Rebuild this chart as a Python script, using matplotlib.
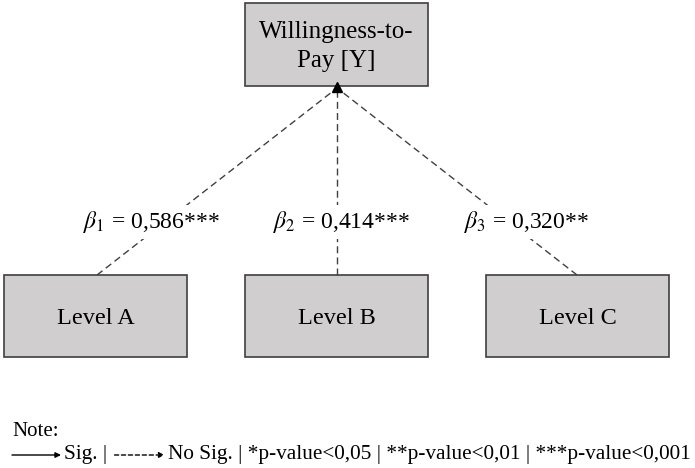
import matplotlib.pyplot as plt
from matplotlib.patches import Rectangle

plt.rcParams['font.family'] = ['Liberation Serif', 'DejaVu Serif']
plt.rcParams['mathtext.fontset'] = 'stix'

# path model: one outcome, three predictors
outcome = 'Willingness-to-\nPay [Y]'
levels = ['Level A', 'Level B', 'Level C']
betas = ['0,586', '0,414', '0,320']
stars = ['***', '***', '**']

W, H = 695, 468
fig = plt.figure(figsize=(W / 100, H / 100), dpi=100)
ax = fig.add_axes([0, 0, 1, 1])
ax.set_xlim(0, W)
ax.set_ylim(H, 0)
ax.axis('off')

box_fc = '#d0cecf'
box_ec = '#404040'
line_c = '#404040'

# outcome box
top = (245, 3, 183, 83)
ax.add_patch(Rectangle(top[:2], top[2], top[3], fc=box_fc, ec=box_ec, lw=1.2))
ax.text(top[0] + top[2] / 2, top[1] + top[3] / 2 + 2, outcome, ha='center', va='center',
        fontsize=18, linespacing=1.45)

tip = (337, 88)

# predictor boxes
lefts = [4, 245, 486]
bw, bh, by = 183, 82, 275
anchors = [97, 337, 577]
lab_pos = [(151, 222), (341, 222), (527, 222)]

for i, name in enumerate(levels):
    ax.add_patch(Rectangle((lefts[i], by), bw, bh, fc=box_fc, ec=box_ec, lw=1.2))
    ax.text(lefts[i] + bw / 2, by + bh / 2 + 3, name, ha='center', va='center', fontsize=17.5)
    ax.plot([anchors[i], tip[0]], [by, tip[1]], color=line_c, lw=1,
            dashes=(5, 3), zorder=1)
    ax.text(lab_pos[i][0], lab_pos[i][1],
            r'$\beta_%d$' % (i + 1) + ' = ' + betas[i] + stars[i],
            ha='center', va='center', fontsize=17, zorder=3,
            bbox=dict(fc='white', ec='none', pad=3))

ax.plot(tip[0], tip[1] - 1, marker='^', ms=7, color='black', zorder=4)

# note / legend
ax.text(12, 431, 'Note:', ha='left', va='center', fontsize=15)

fig.canvas.draw()
rend = fig.canvas.get_renderer()
inv = ax.transData.inverted()


def put(x, s):
    t = ax.text(x, 455, s, ha='left', va='center', fontsize=15.3)
    bb = t.get_window_extent(rend)
    return inv.transform((bb.x1, 0))[0]


def arrow(x0, x1, dashed):
    ax.annotate('', xy=(x1, 455), xytext=(x0, 455),
                arrowprops=dict(arrowstyle='-|>', color='black', lw=1,
                                linestyle=(0, (3, 2)) if dashed else '-',
                                mutation_scale=8, shrinkA=0, shrinkB=0))


arrow(12, 61, False)
x = put(64, 'Sig. | ')
arrow(x + 2, x + 52, True)
put(x + 55, 'No Sig. | *p-value<0,05 | **p-value<0,01 | ***p-value<0,001')

fig.savefig('out.png', dpi=100)
